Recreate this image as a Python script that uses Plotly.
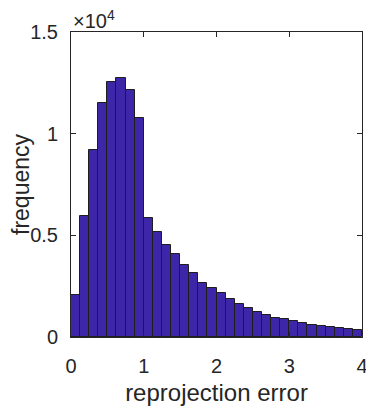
import plotly.graph_objects as go

# histogram bins (left edges) and counts
bin_width = 0.125
bin_left = [i * bin_width for i in range(32)]
counts = [2070, 5950, 9200, 11530, 12560, 12750, 12140, 10770,
          5870, 5180, 4540, 4100, 3540, 3150, 2660, 2400,
          2140, 1850, 1600, 1410, 1230, 1090, 950, 870,
          780, 690, 600, 550, 480, 440, 380, 360]

x_ticks = [0, 1, 2, 3, 4]
y_ticks = [0, 5000, 10000, 15000]
y_ticktext = ['0', '0.5', '1', '1.5']

fig = go.Figure()

fig.add_trace(go.Bar(
    x=[b + bin_width / 2 for b in bin_left],
    y=counts,
    width=bin_width,
    marker=dict(color='rgb(62,38,168)', line=dict(color='rgb(30,30,30)', width=1)),
    showlegend=False
))

axis_font = dict(family='Liberation Sans, Arial, sans-serif', size=20, color='#262626')

# page body has an 8px margin, so the figure is a bit smaller than the window
fig.update_layout(
    width=366, height=399,
    margin=dict(l=63, r=12, t=24, b=70),
    plot_bgcolor='white', paper_bgcolor='white',
    bargap=0,
    font=axis_font,
    xaxis=dict(
        range=[0, 4], tickvals=x_ticks, ticks='inside', ticklen=5,
        tickcolor='#262626', showline=True, linecolor='#262626', linewidth=1,
        mirror='ticks', showgrid=False, zeroline=False, automargin=False,
        ticklabelstandoff=11,
        title=dict(text='reprojection error', font=dict(size=24), standoff=8),
    ),
    yaxis=dict(
        range=[0, 15000], tickvals=y_ticks, ticktext=y_ticktext,
        ticks='inside', ticklen=5, tickcolor='#262626',
        showline=True, linecolor='#262626', linewidth=1,
        mirror='ticks', showgrid=False, zeroline=False, automargin=False,
        ticklabelstandoff=8,
        title=dict(text='frequency', font=dict(size=23), standoff=10),
    ),
    annotations=[dict(
        text='×10<sup>4</sup>', xref='paper', yref='paper', x=0, y=1,
        xanchor='left', yanchor='bottom', showarrow=False,
        font=dict(size=20, color='#262626'), xshift=0, yshift=-2
    )]
)

fig.write_html("out.html")
